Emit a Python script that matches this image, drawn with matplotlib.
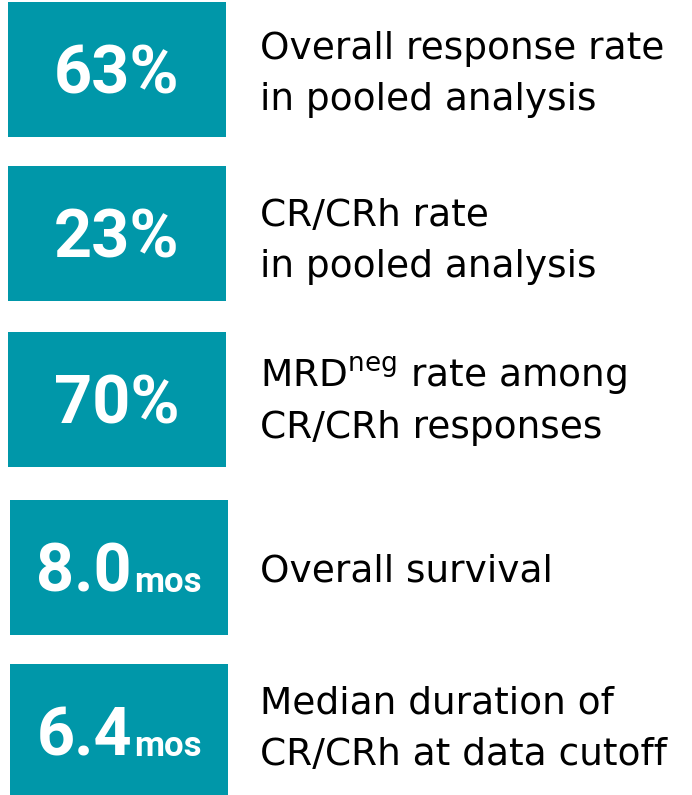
import matplotlib
matplotlib.use("Agg")
import matplotlib.pyplot as plt
from matplotlib.patches import Rectangle

# headline numbers shown in the teal boxes (big part + small unit)
big_values = ["63%", "23%", "70%", "8.0", "6.4"]
small_units = ["", "", "", "mos", "mos"]

# description text next to each box (one entry per line)
descriptions = [
    ["Overall response rate", "in pooled analysis"],
    ["CR/CRh rate", "in pooled analysis"],
    [r"MRD$^{\mathregular{neg}}$ rate among", "CR/CRh responses"],
    ["Overall survival"],
    ["Median duration of", "CR/CRh at data cutoff"],
]

# layout in pixel units (figure is 692 x 795 px)
box_left = [8, 8, 8, 10, 10]
box_top = [2, 166, 332, 500, 664]
box_w = 218
box_h = 135
text_x = 260
line_baselines = [[59, 110], [226, 277], [387, 438], [582], [713, 765]]

teal = "#0097A9"

plt.rcParams["mathtext.fontset"] = "dejavusans"
fig = plt.figure(figsize=(6.92, 7.95), dpi=100)
ax = fig.add_axes([0, 0, 1, 1])
ax.set_xlim(0, 692)
ax.set_ylim(795, 0)
ax.axis("off")

renderer = fig.canvas.get_renderer()

for i in range(len(big_values)):
    x0, y0 = box_left[i], box_top[i]
    ax.add_patch(Rectangle((x0, y0), box_w, box_h, color=teal, lw=0))
    cx = x0 + box_w / 2
    cy = y0 + box_h / 2
    base = cy + 24
    t1 = ax.text(0, base, big_values[i], color="white", fontsize=48,
                 fontfamily="Roboto", fontweight="bold", ha="left", va="baseline")
    w1 = t1.get_window_extent(renderer).width
    w2 = 0
    t2 = None
    if small_units[i]:
        t2 = ax.text(0, base, small_units[i], color="white", fontsize=25,
                     fontfamily="Roboto", fontweight="bold", ha="left", va="baseline")
        w2 = t2.get_window_extent(renderer).width + 2
    start = cx - (w1 + w2) / 2
    t1.set_x(start)
    if t2 is not None:
        t2.set_x(start + w1 + 2)

    for line, yb in zip(descriptions[i], line_baselines[i]):
        ax.text(text_x, yb, line, color="black", fontsize=27,
                fontfamily="DejaVu Sans", ha="left", va="baseline")

fig.savefig("out.png", dpi=100)
